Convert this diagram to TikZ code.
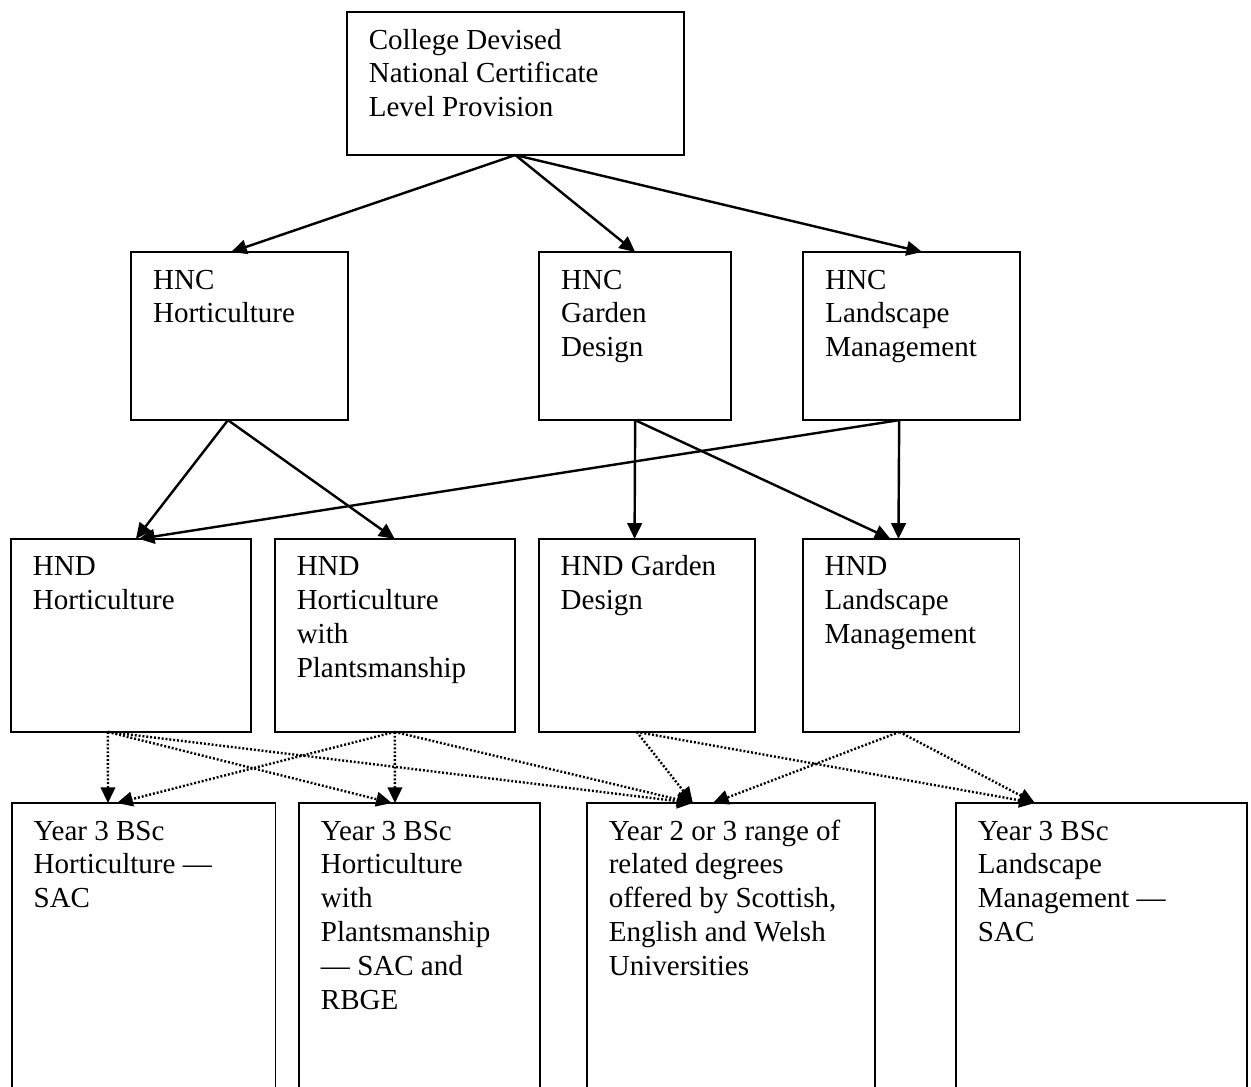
\documentclass[tikz,border=0pt]{standalone}
\usepackage{fontspec}
\setmainfont{Liberation Serif}
\usetikzlibrary{positioning,arrows.meta}

\tikzset{
  box/.style={draw, line width=0.8pt, align=flush left, inner xsep=9.1pt, inner ysep=0pt,
    outer sep=0pt, text height=15.3pt, font=\fontsize{12pt}{14pt}\selectfont},
  topbox/.style={box, text depth=43.8pt},
  hncbox/.style={box, text depth=54.2pt},
  hndbox/.style={box, text depth=64.5pt},
  degbox/.style={box, text depth=106.7pt},
  solidarrow/.style={-{Triangle[length=6.5pt,width=6pt]}, line width=1pt},
  dotarrow/.style={solidarrow, dash pattern=on 0.8pt off 0.8pt}
}

\begin{document}
\begin{tikzpicture}
\useasboundingbox (0,0) rectangle (517.2pt,-449pt);
\clip (0,0) rectangle (517.2pt,-449pt);

% top
\node[topbox, text width=121.1pt, anchor=north west] (ncprov) at (143.4pt,-5pt) {College Devised\\National Certificate\\Level Provision};

% HNC row
\node[hncbox, text width=71.5pt, anchor=north west] (hnchort) at (54.2pt,-104.2pt) {HNC\\Horticulture};
\node[hncbox, text width=61.2pt, right=79pt of hnchort] (hncgd) {HNC\\Garden\\Design};
\node[hncbox, text width=71.5pt, right=29.8pt of hncgd] (hnclm) {HNC\\Landscape\\Management};

% HND row
\node[hndbox, text width=81pt, anchor=north west] (hndhort) at (4.5pt,-222.8pt) {HND\\Horticulture};
\node[hndbox, text width=81pt, right=9.9pt of hndhort] (hndhwp) {HND\\Horticulture\\with\\Plantsmanship};
\node[hndbox, text width=71.1pt, right=9.9pt of hndhwp] (hndgd) {HND Garden\\Design};
\node[hndbox, text width=71.5pt, right=19.8pt of hndgd] (hndlm) {HND\\Landscape\\Management};

% degrees
\node[degbox, text width=90.9pt, anchor=north west] (y3hort) at (4.8pt,-332pt) {Year 3 BSc\\Horticulture —\\SAC};
\node[degbox, text width=81.4pt, right=9.7pt of y3hort] (y3hwp) {Year 3 BSc\\Horticulture\\with\\Plantsmanship\\— SAC and\\RBGE};
\node[degbox, text width=100.9pt, right=19.4pt of y3hwp] (y2or3) {Year 2 or 3 range of\\related degrees\\offered by Scottish,\\English and Welsh\\Universities};
\node[degbox, text width=102.1pt, right=33.5pt of y2or3] (y3lm) {Year 3 BSc\\Landscape\\Management —\\SAC};

% top -> HNC
\draw[solidarrow] (ncprov.south) -- ([xshift=-3.5pt]hnchort.north);
\draw[solidarrow] (ncprov.south) -- (hncgd.north);
\draw[solidarrow] (ncprov.south) -- ([xshift=4.3pt]hnclm.north);

% HNC -> HND
\draw[solidarrow] ([xshift=-4.8pt]hnchort.south) -- ([xshift=2.1pt]hndhort.north);
\draw[solidarrow] ([xshift=-4.8pt]hnchort.south) -- (hndhwp.north);
\draw[solidarrow] (hncgd.south) -- ([xshift=-5pt]hndgd.north);
\draw[solidarrow] (hncgd.south) -- ([xshift=-8.5pt]hndlm.north);
\draw[solidarrow] ([xshift=-5.2pt]hnclm.south) -- ([xshift=-5.2pt]hndlm.north);
\draw[solidarrow] ([xshift=-5.2pt]hnclm.south) -- ([xshift=3.3pt]hndhort.north);

% HND -> degrees
\draw[dotarrow] ([xshift=-9.5pt]hndhort.south) -- ([xshift=-14.7pt]y3hort.north);
\draw[dotarrow] ([xshift=-9.5pt]hndhort.south) -- ([xshift=-11.4pt]y3hwp.north);
\draw[dotarrow] ([xshift=-9.5pt]hndhort.south) -- ([xshift=-15.7pt]y2or3.north);
\draw[dotarrow] (hndhwp.south) -- ([xshift=-11pt]y3hort.north);
\draw[dotarrow] (hndhwp.south) -- ([xshift=-10.1pt]y3hwp.north);
\draw[dotarrow] (hndhwp.south) -- ([xshift=-15.7pt]y2or3.north);
\draw[dotarrow] ([xshift=-4.1pt]hndgd.south) -- ([xshift=-15.7pt]y2or3.north);
\draw[dotarrow] ([xshift=-4.1pt]hndgd.south) -- ([xshift=-27.5pt]y3lm.north);
\draw[dotarrow] ([xshift=-4.8pt]hndlm.south) -- ([xshift=-7.4pt]y2or3.north);
\draw[dotarrow] ([xshift=-4.8pt]hndlm.south) -- ([xshift=-27.5pt]y3lm.north);
\end{tikzpicture}
\end{document}
